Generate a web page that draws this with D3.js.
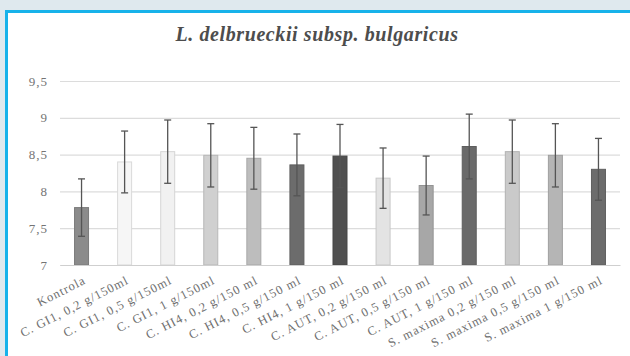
<!DOCTYPE html>
<html>
<head>
<meta charset="utf-8">
<script src="https://cdn.jsdelivr.net/npm/d3@7"></script>
<style>
  html, body { margin: 0; padding: 0; background: #dfe9ee; }
  svg { display: block; }
</style>
</head>
<body>
<svg id="chart" width="630" height="356"></svg>
<script>
// Bacterial counts (log CFU/ml) per treatment, with standard deviation
const categories = [
  "Kontrola",
  "C. GI1, 0,2 g/150ml",
  "C. GI1, 0,5 g/150ml",
  "C. GI1, 1 g/150ml",
  "C. HI4, 0,2 g/150 ml",
  "C. HI4, 0,5 g/150 ml",
  "C. HI4, 1 g/150 ml",
  "C. AUT, 0,2 g/150 ml",
  "C. AUT, 0,5 g/150 ml",
  "C. AUT, 1 g/150 ml",
  "S. maxima 0,2 g/150 ml",
  "S. maxima 0,5 g/150 ml",
  "S. maxima 1 g/150 ml"
];
const means = [7.78, 8.40, 8.54, 8.49, 8.45, 8.36, 8.48, 8.18, 8.08, 8.61, 8.54, 8.49, 8.30];
const errors = [0.39, 0.42, 0.43, 0.43, 0.42, 0.42, 0.43, 0.41, 0.40, 0.44, 0.43, 0.43, 0.42];
const barColors = ["#8b8b8b", "#f6f6f6", "#f1f1f1", "#d0d0d0", "#bdbdbd", "#6c6c6c", "#505050",
                   "#e3e3e3", "#a7a7a7", "#6a6a6a", "#cacaca", "#b5b5b5", "#6c6c6c"];
const yTicks = [7, 7.5, 8, 8.5, 9, 9.5];
const title = "L. delbrueckii subsp. bulgaricus";

const svg = d3.select("#chart");
const W = 630, H = 356;
const serif = "'Liberation Serif', 'Times New Roman', serif";

// white panel with blue top/left rule
svg.append("rect").attr("x", 6).attr("y", 11).attr("width", W - 6).attr("height", H - 11).attr("fill", "#ffffff");
svg.append("rect").attr("x", 5).attr("y", 10).attr("width", W - 5).attr("height", 3).attr("fill", "#17b2ea");
svg.append("rect").attr("x", 5).attr("y", 10).attr("width", 3).attr("height", H - 10).attr("fill", "#17b2ea");

const m = { left: 60, right: 10, top: 81, bottom: 91 };
const x = d3.scaleBand().domain(categories).range([m.left, W - m.right]).paddingInner(0.675).paddingOuter(0.3375);
const y = d3.scaleLinear().domain([7, 9.5]).range([H - m.bottom, m.top]);

// title
svg.append("text")
  .attr("x", 317).attr("y", 41)
  .attr("text-anchor", "middle")
  .attr("font-family", serif)
  .attr("font-style", "italic").attr("font-weight", "bold")
  .attr("font-size", 20).attr("letter-spacing", 0.6).attr("fill", "#4d4d4d")
  .text(title);

// gridlines + y labels
const yAxis = d3.axisLeft(y).tickValues(yTicks)
  .tickSize(-(W - m.right - m.left))
  .tickFormat(d => String(d).replace(".", ","));
const gy = svg.append("g").attr("transform", `translate(${m.left},0)`).call(yAxis);
gy.select(".domain").remove();
gy.selectAll(".tick line").attr("stroke", "#dcdcdc").attr("stroke-width", 1.2);
gy.selectAll(".tick text")
  .attr("x", -12)
  .attr("font-family", serif)
  .attr("font-size", 13).attr("letter-spacing", 1).attr("fill", "#747474");

// bars
svg.append("g").selectAll("rect").data(categories).join("rect")
  .attr("x", d => x(d))
  .attr("y", (d, i) => y(means[i]))
  .attr("width", x.bandwidth())
  .attr("height", (d, i) => y(7) - y(means[i]))
  .attr("fill", (d, i) => barColors[i])
  .attr("stroke", (d, i) => d3.color(barColors[i]).darker(0.35))
  .attr("stroke-width", 1);

// error bars
const eb = svg.append("g").attr("stroke", "#555").attr("stroke-width", 1.3);
categories.forEach((c, i) => {
  const cx = x(c) + x.bandwidth() / 2;
  const y1 = y(means[i] + errors[i]), y0 = y(means[i] - errors[i]);
  eb.append("line").attr("x1", cx).attr("x2", cx).attr("y1", y1).attr("y2", y0);
  eb.append("line").attr("x1", cx - 3.5).attr("x2", cx + 3.5).attr("y1", y1).attr("y2", y1);
  eb.append("line").attr("x1", cx - 3.5).attr("x2", cx + 3.5).attr("y1", y0).attr("y2", y0);
});

// x axis baseline and rotated category labels
const xAxis = d3.axisBottom(x).tickSize(0);
const gx = svg.append("g").attr("transform", `translate(0,${y(7)})`).call(xAxis);
gx.select(".domain").attr("stroke", "#cfcfcf").attr("stroke-width", 1.2);
gx.selectAll(".tick text")
  .attr("font-family", serif)
  .attr("font-size", 12.5).attr("letter-spacing", 1).attr("fill", "#6e6e6e")
  .attr("text-anchor", "end")
  .attr("dy", 0)
  .attr("y", 0)
  .attr("transform", "translate(5,18) rotate(-27)");
</script>
</body>
</html>
